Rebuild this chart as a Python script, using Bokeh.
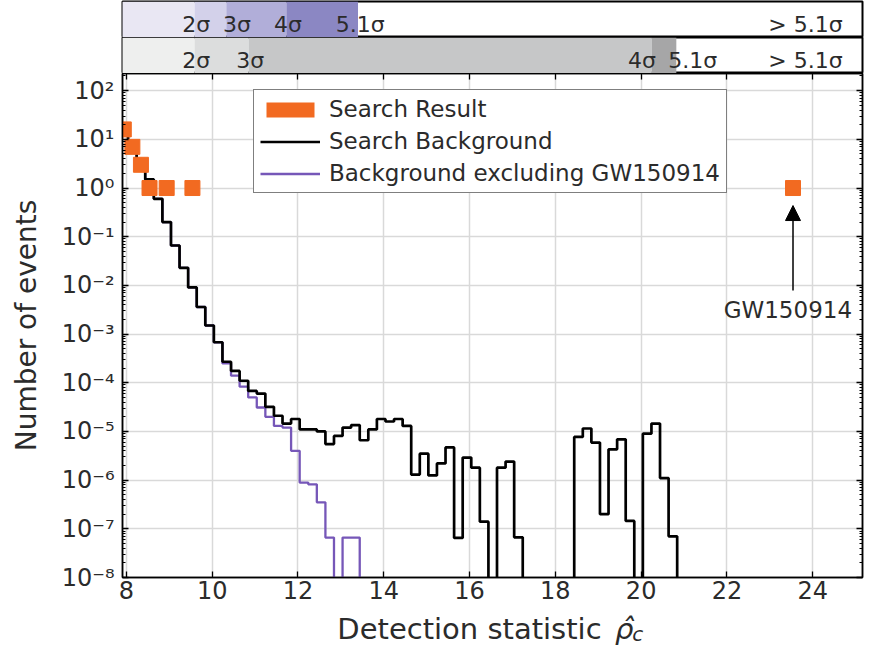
from bokeh.plotting import figure
from bokeh.layouts import column
from bokeh.models import (Range1d, FixedTicker, LogAxis, LinearAxis, CustomJSTickFormatter,
                          Legend, LegendItem, Arrow, NormalHead, ColumnDataSource)
from bokeh.core.properties import value
from bokeh.embed import file_html
from bokeh.resources import INLINE

FONT = "DejaVu Sans"
TEXT = "#2b2b2b"
ORANGE = "#f26a21"
PURPLE = "#7657b8"

# ---------------- data ----------------
bin_start = 7.84
bin_width = 0.2

background_counts = [
    12, 5.5, 2.6, 1.5, 0.6, 0.2, 0.066, 0.023, 0.0091, 0.0036,
    0.0015, 6.8e-4, 2.7e-4, 1.75e-4, 1.1e-4, 6.8e-5, 6.0e-5, 3.2e-5, 2.1e-5, 1.45e-5,
    1.8e-5, 1.1e-5, 1.1e-5, 1.0e-5, 5.5e-6, 8.1e-6, 1.2e-5, 1.35e-5, 6.6e-6, 1.1e-5,
    1.8e-5, 1.6e-5, 1.8e-5, 1.3e-5, 1.3e-6, 3.5e-6, 1.25e-6, 2.2e-6, 4.7e-6, 6.5e-8,
    2.9e-6, 1.8e-6, 1.4e-7, 0, 1.8e-6, 2.4e-6, 6.7e-8, 0, 0, 0,
    0, 0, 0, 7.7e-6, 1.15e-5, 5.9e-6, 2.0e-7, 4.3e-6, 6.9e-6, 1.45e-7,
    0, 9.0e-6, 1.45e-5, 1.1e-6, 7.0e-8, 0,
]

background_excl_counts = [
    12, 5.5, 2.6, 1.5, 0.6, 0.2, 0.066, 0.023, 0.0091, 0.0036,
    0.0015, 6.8e-4, 2.5e-4, 1.4e-4, 8.3e-5, 5.0e-5, 3.1e-5, 2.0e-5, 1.3e-5, 1.2e-5,
    4.0e-6, 8.9e-7, 8.2e-7, 3.5e-7, 6.6e-8, 0, 6.6e-8, 6.6e-8, 0,
]

result_x = [7.94, 8.14, 8.34, 8.54, 8.94, 9.54, 23.54]
result_counts = [16, 7, 3, 1, 1, 1, 1]

gw_label = "GW150914"
gw_x = 23.54
gw_label_x = 23.42

x_ticks = [8, 10, 12, 14, 16, 18, 20, 22, 24]
y_exponents = list(range(-8, 3))

purple_edges = [9.59, 10.33, 11.73, 13.40]
purple_colors = ["#e9e7f3", "#d3d1ea", "#b1aed9", "#8b87c3"]
purple_labels = ["2σ", "3σ", "4σ", "5.1σ", "> 5.1σ"]
purple_label_x = [9.63, 10.58, 11.77, 13.45, 23.83]

gray_edges = [9.59, 10.85, 20.25, 20.82]
gray_colors = ["#eeefee", "#dcdddd", "#c6c7c8", "#a6a6a7"]
gray_labels = ["2σ", "3σ", "4σ", "5.1σ", "> 5.1σ"]
gray_label_x = [9.63, 10.89, 20.02, 21.20, 23.83]

x_label_parts = ["Detection statistic", "ρ̂", "c"]
x_label_x = [12.918, 19.39, 19.79]

X_LO, X_HI = 7.91, 25.16
Y_LO, Y_HI = 1e-8, 225.0
FLOOR = 1e-12

W = 872
BL, BR = 122, 10

# ---------------- main plot ----------------
main = figure(width=W, height=538, x_range=Range1d(X_LO, X_HI), y_range=Range1d(Y_LO, Y_HI),
              y_axis_type="log", output_backend="svg", toolbar_location=None,
              min_border_left=BL, min_border_right=BR, min_border_top=0, min_border_bottom=34,
              background_fill_color="white", border_fill_color="white")
main.outline_line_color = "black"
main.outline_line_width = 1.5

xticker = FixedTicker(ticks=x_ticks, minor_ticks=[])
y_major = [10.0 ** k for k in y_exponents]
y_minor = [m * 10.0 ** k for k in y_exponents[:-1] for m in range(2, 10)] + [200.0]
yticker = FixedTicker(ticks=y_major, minor_ticks=y_minor)

sup_code = r"""
const sup = {"-": "\u207b", "0": "\u2070", "1": "\u00b9", "2": "\u00b2", "3": "\u00b3",
             "4": "\u2074", "5": "\u2075", "6": "\u2076", "7": "\u2077", "8": "\u2078", "9": "\u2079"};
const e = Math.round(Math.log10(tick));
return "10" + String(e).split("").map((c) => sup[c]).join("");
"""

left = main.left[0]
bottom = main.below[0]
left.ticker = yticker
left.formatter = CustomJSTickFormatter(code=sup_code)
bottom.ticker = xticker

right = LogAxis(ticker=yticker, formatter=CustomJSTickFormatter(code='return "";'))
top = LinearAxis(ticker=xticker, formatter=CustomJSTickFormatter(code='return "";'))
main.add_layout(right, "right")
main.add_layout(top, "above")

for ax in (left, bottom, right, top):
    ax.axis_line_color = "black"
    ax.axis_line_width = 1.5
    ax.major_tick_line_color = "black"
    ax.major_tick_line_width = 1.3
    ax.major_tick_in = 6
    ax.major_tick_out = 0
    ax.minor_tick_line_color = "black"
    ax.minor_tick_line_width = 1
    ax.minor_tick_in = 3
    ax.minor_tick_out = 0
    ax.major_label_text_font = FONT
    ax.major_label_text_font_size = "24px"
    ax.major_label_text_color = TEXT

for ax in (right, top):
    ax.major_label_standoff = 0
    ax.major_label_text_font_size = "1px"

left.major_label_standoff = 8
bottom.major_label_standoff = 3
left.axis_label = "Number of events"
left.axis_label_text_font = FONT
left.axis_label_text_font_size = "28px"
left.axis_label_text_font_style = "normal"
left.axis_label_text_color = TEXT
left.axis_label_standoff = 16

main.xgrid.grid_line_color = "#d9d9d9"
main.xgrid.grid_line_width = 1.5
main.ygrid.grid_line_color = "#d9d9d9"
main.ygrid.grid_line_width = 1.5


def step_points(counts):
    xs = [bin_start + bin_width * i for i in range(len(counts) + 1)]
    ys = [c if c > 0 else FLOOR for c in counts] + [FLOOR]
    return xs, ys


px, py = step_points(background_excl_counts)
purple_r = main.step(px, py, mode="after", line_color=PURPLE, line_width=2.3)
bx, by = step_points(background_counts)
black_r = main.step(bx, by, mode="after", line_color="black", line_width=2.7)

res_src = ColumnDataSource(dict(x=result_x, y=result_counts))
main.scatter("x", "y", source=res_src, marker="square", size=15,
             fill_color=ORANGE, line_color=ORANGE)
# zero-area quads on the same points: only used to draw a filled legend swatch
legend_proxy = main.quad(left="x", right="x", bottom="y", top="y", source=res_src,
                         fill_color=ORANGE, line_color=None)

legend = Legend(items=[
    LegendItem(label="Search Result", renderers=[legend_proxy]),
    LegendItem(label="Search Background", renderers=[black_r]),
    LegendItem(label="Background excluding GW150914", renderers=[purple_r]),
], location=(131, 384))
legend.border_line_color = "black"
legend.border_line_width = 1.5
legend.background_fill_alpha = 1.0
legend.label_text_font = FONT
legend.label_text_font_size = "23px"
legend.label_text_color = TEXT
legend.glyph_width = 60
legend.glyph_height = 19
legend.label_standoff = 9
legend.padding = 6
legend.spacing = 6
legend.margin = 0
main.add_layout(legend)

# GW150914 annotation
main.add_layout(Arrow(end=NormalHead(size=15, fill_color="black", line_color="black"),
                      x_start=gw_x, y_start=10 ** -2.105, x_end=gw_x, y_end=10 ** -0.36,
                      line_color="black", line_width=1.5))
gw_src = ColumnDataSource(dict(x=[gw_label_x], y=[10 ** -2.506], t=[gw_label]))
main.text("x", "y", text="t", source=gw_src, text_font=value(FONT), text_font_size="23px",
          text_align="center", text_baseline="middle", text_color=TEXT)


def strip_fig(h, top_border):
    f = figure(width=W, height=h, x_range=main.x_range, y_range=Range1d(0, 1),
               output_backend="svg", toolbar_location=None,
               min_border_left=BL, min_border_right=BR, min_border_top=top_border, min_border_bottom=0,
               x_axis_location=None, y_axis_location=None,
               background_fill_color="white", border_fill_color="white")
    f.xgrid.visible = False
    f.ygrid.visible = False
    return f


# ---------------- sigma bands ----------------
def band_fig(h, top_border, edges, colors, labels, label_x, text_y):
    f = strip_fig(h, top_border)
    f.outline_line_color = "black"
    f.outline_line_width = 2
    lefts = [X_LO - 1] + edges[:-1]
    src = ColumnDataSource(dict(l=lefts, r=edges, c=colors))
    f.quad(left="l", right="r", bottom=0, top=1, fill_color="c", line_color=None, source=src)
    tsrc = ColumnDataSource(dict(x=label_x, t=labels))
    f.text("x", text_y, text="t", source=tsrc, text_font=value(FONT), text_font_size="22px",
           text_align="center", text_baseline="middle", text_color=TEXT)
    return f


band1 = band_fig(37, 1, purple_edges, purple_colors, purple_labels, purple_label_x, 0.36)
band2 = band_fig(36, 0, gray_edges, gray_colors, gray_labels, gray_label_x, 0.36)

# ---------------- x-axis title strip ----------------
xlab = strip_fig(35, 0)
xlab.outline_line_color = None
xlab.text([x_label_x[0]], [0.5], text=[x_label_parts[0]], text_font=value(FONT),
          text_font_size="29px", text_align="left", text_baseline="middle", text_color=TEXT)
xlab.text([x_label_x[1]], [0.5], text=[x_label_parts[1]], text_font=value(FONT),
          text_font_style="italic", text_font_size="29px", text_align="left",
          text_baseline="middle", text_color=TEXT)
xlab.text([x_label_x[2]], [0.35], text=[x_label_parts[2]], text_font=value(FONT),
          text_font_style="italic", text_font_size="20px", text_align="left",
          text_baseline="middle", text_color=TEXT)

layout = column(band1, band2, main, xlab, spacing=0)

open("out.html", "w").write(file_html(layout, INLINE))
